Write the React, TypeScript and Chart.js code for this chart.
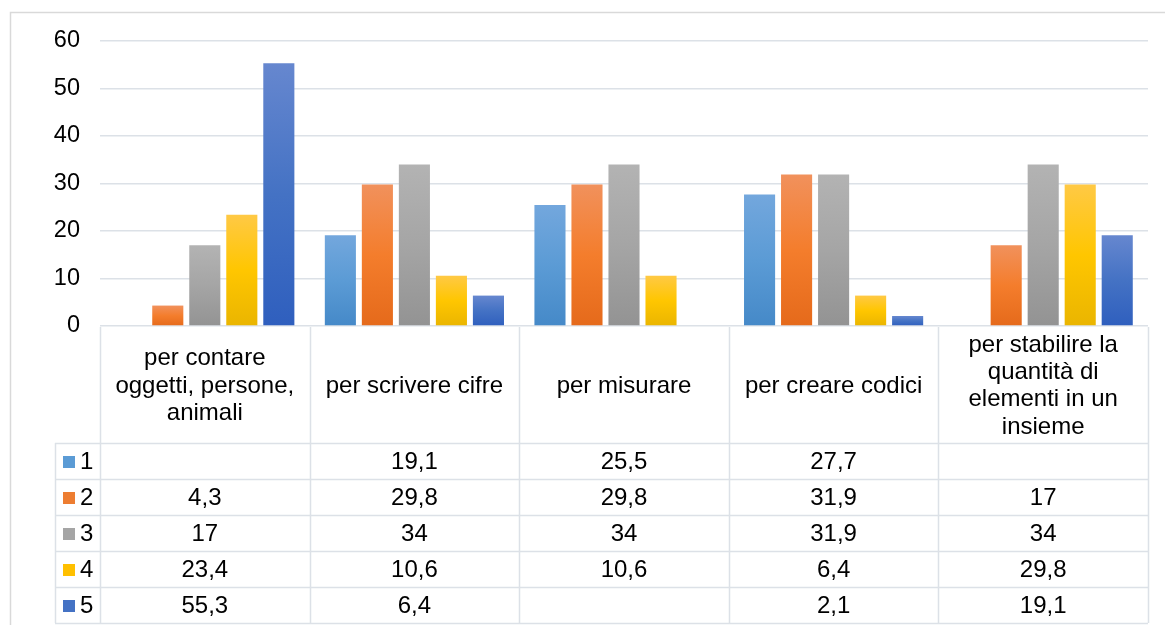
import React, { useEffect, useRef } from "react";
import { Chart, registerables } from "chart.js";

Chart.register(...registerables);

const categories: string[][] = [
  ["per contare", "oggetti, persone,", "animali"],
  ["per scrivere cifre"],
  ["per misurare"],
  ["per creare codici"],
  ["per stabilire la", "quantità di", "elementi in un", "insieme"],
];

const seriesNames = ["1", "2", "3", "4", "5"];
const series1: (number | null)[] = [null, 19.1, 25.5, 27.7, null];
const series2: (number | null)[] = [4.3, 29.8, 29.8, 31.9, 17];
const series3: (number | null)[] = [17, 34, 34, 31.9, 34];
const series4: (number | null)[] = [23.4, 10.6, 10.6, 6.4, 29.8];
const series5: (number | null)[] = [55.3, 6.4, null, 2.1, 19.1];
const yTicks = [0, 10, 20, 30, 40, 50, 60];

const allSeries = [series1, series2, series3, series4, series5];

const gradients: string[][] = [
  ["#73A7DD", "#5B9BD5", "#4589C8"],
  ["#F1915C", "#F47D2C", "#E56A1B"],
  ["#B3B3B3", "#A5A5A5", "#939393"],
  ["#FFC945", "#FFC600", "#EAB500"],
  ["#6687CF", "#4472C4", "#2F5FBE"],
];
const solid = ["#5B9BD5", "#ED7D31", "#A5A5A5", "#FFC000", "#4472C4"];

const FONT = "'Liberation Sans', Arial, sans-serif";
const FS = 23.5;
const TFS = 24;
const LINE = "#DCE1E7";
const HEADER_TOP = 327;
const HEADER_BOTTOM = 443;
const ROW_H = 36;
const LEGEND_LEFT = 55;

const fmt = (v: number | null) => (v == null ? "" : String(v).replace(".", ","));

const tablePlugin = {
  id: "tablePlugin",
  beforeDraw(chart: any) {
    const ctx = chart.ctx;
    ctx.save();
    ctx.strokeStyle = "#D9D9D9";
    ctx.lineWidth = 1.5;
    ctx.strokeRect(10.5, 12.5, 1200, 700);
    ctx.restore();
  },
  afterDraw(chart: any) {
    const ctx = chart.ctx;
    const x = chart.scales.x;
    const area = chart.chartArea;
    const n = categories.length;
    const cw = (area.right - area.left) / n;
    const rowsTop = HEADER_BOTTOM;
    const bottom = rowsTop + ROW_H * seriesNames.length;
    ctx.save();
    ctx.strokeStyle = LINE;
    ctx.lineWidth = 1.5;
    for (let i = 0; i <= n; i++) {
      const px = Math.round(area.left + cw * i) + 0.5;
      ctx.beginPath();
      ctx.moveTo(px, HEADER_TOP);
      ctx.lineTo(px, bottom);
      ctx.stroke();
    }
    ctx.beginPath();
    ctx.moveTo(LEGEND_LEFT + 0.5, rowsTop);
    ctx.lineTo(LEGEND_LEFT + 0.5, bottom);
    ctx.stroke();
    for (let r = 0; r <= seriesNames.length; r++) {
      const py = rowsTop + ROW_H * r + 0.5;
      ctx.beginPath();
      ctx.moveTo(LEGEND_LEFT, py);
      ctx.lineTo(area.right, py);
      ctx.stroke();
    }
    ctx.fillStyle = "#000";
    ctx.font = `${TFS}px ${FONT}`;
    ctx.textAlign = "center";
    ctx.textBaseline = "middle";
    const lh = 27.3;
    const hc = (HEADER_TOP + HEADER_BOTTOM) / 2 + 1;
    categories.forEach((lines, i) => {
      const cx = x.getPixelForValue(i);
      const start = hc - ((lines.length - 1) * lh) / 2;
      lines.forEach((t, k) => ctx.fillText(t, cx, start + k * lh));
    });
    seriesNames.forEach((name, r) => {
      const cy = rowsTop + ROW_H * r + ROW_H / 2 + 1;
      ctx.fillStyle = solid[r];
      ctx.fillRect(63, cy - 6, 12, 12);
      ctx.fillStyle = "#000";
      ctx.textAlign = "left";
      ctx.fillText(name, 80, cy);
      ctx.textAlign = "center";
      allSeries[r].forEach((v, i) => {
        ctx.fillText(fmt(v), x.getPixelForValue(i), cy);
      });
    });
    ctx.restore();
  },
};

export default function App() {
  const ref = useRef<HTMLCanvasElement>(null);
  useEffect(() => {
    document.body.style.margin = "0";
    const canvas = ref.current!;
    const chart = new Chart(canvas, {
      type: "bar",
      data: {
        labels: categories.map((c) => c.join(" ")),
        datasets: allSeries.map((data, s) => ({
          label: seriesNames[s],
          data,
          backgroundColor: (c: any) => {
            const ch = c.chart;
            const y = ch.scales && ch.scales.y;
            const g = gradients[s];
            if (!y || c.raw == null || c.type !== "data") return g[1];
            const top = y.getPixelForValue(c.raw);
            const bot = y.getPixelForValue(0);
            if (!isFinite(top) || !isFinite(bot) || top === bot) return g[1];
            const grad = ch.ctx.createLinearGradient(0, top, 0, bot);
            grad.addColorStop(0, g[0]);
            grad.addColorStop(0.5, g[1]);
            grad.addColorStop(1, g[2]);
            return grad;
          },
          borderWidth: 0,
          categoryPercentage: 0.883,
          barPercentage: 0.84,
        })),
      },
      options: {
        animation: false,
        responsive: true,
        maintainAspectRatio: false,
        layout: { padding: { top: 41, right: 17, left: 0, bottom: 0 } },
        plugins: { legend: { display: false }, tooltip: { enabled: false } },
        scales: {
          x: {
            grid: { display: false },
            border: { display: false },
            ticks: { display: false },
            afterFit: (scale: any) => {
              scale.height = 625 - 326;
            },
          },
          y: {
            min: 0,
            max: 60,
            afterBuildTicks: (scale: any) => {
              scale.ticks = yTicks.map((v) => ({ value: v }));
            },
            grid: { color: LINE, lineWidth: 1.5, drawTicks: false },
            border: { display: false },
            ticks: {
              padding: 20,
              color: "#000",
              font: { family: FONT, size: FS },
            },
            afterFit: (scale: any) => {
              scale.width = 100;
            },
          },
        },
      },
      plugins: [tablePlugin],
    });
    return () => chart.destroy();
  }, []);
  return (
    <div style={{ position: "fixed", left: 0, top: 0, width: 1165, height: 625, background: "#fff" }}>
      <canvas ref={ref} />
    </div>
  );
}
